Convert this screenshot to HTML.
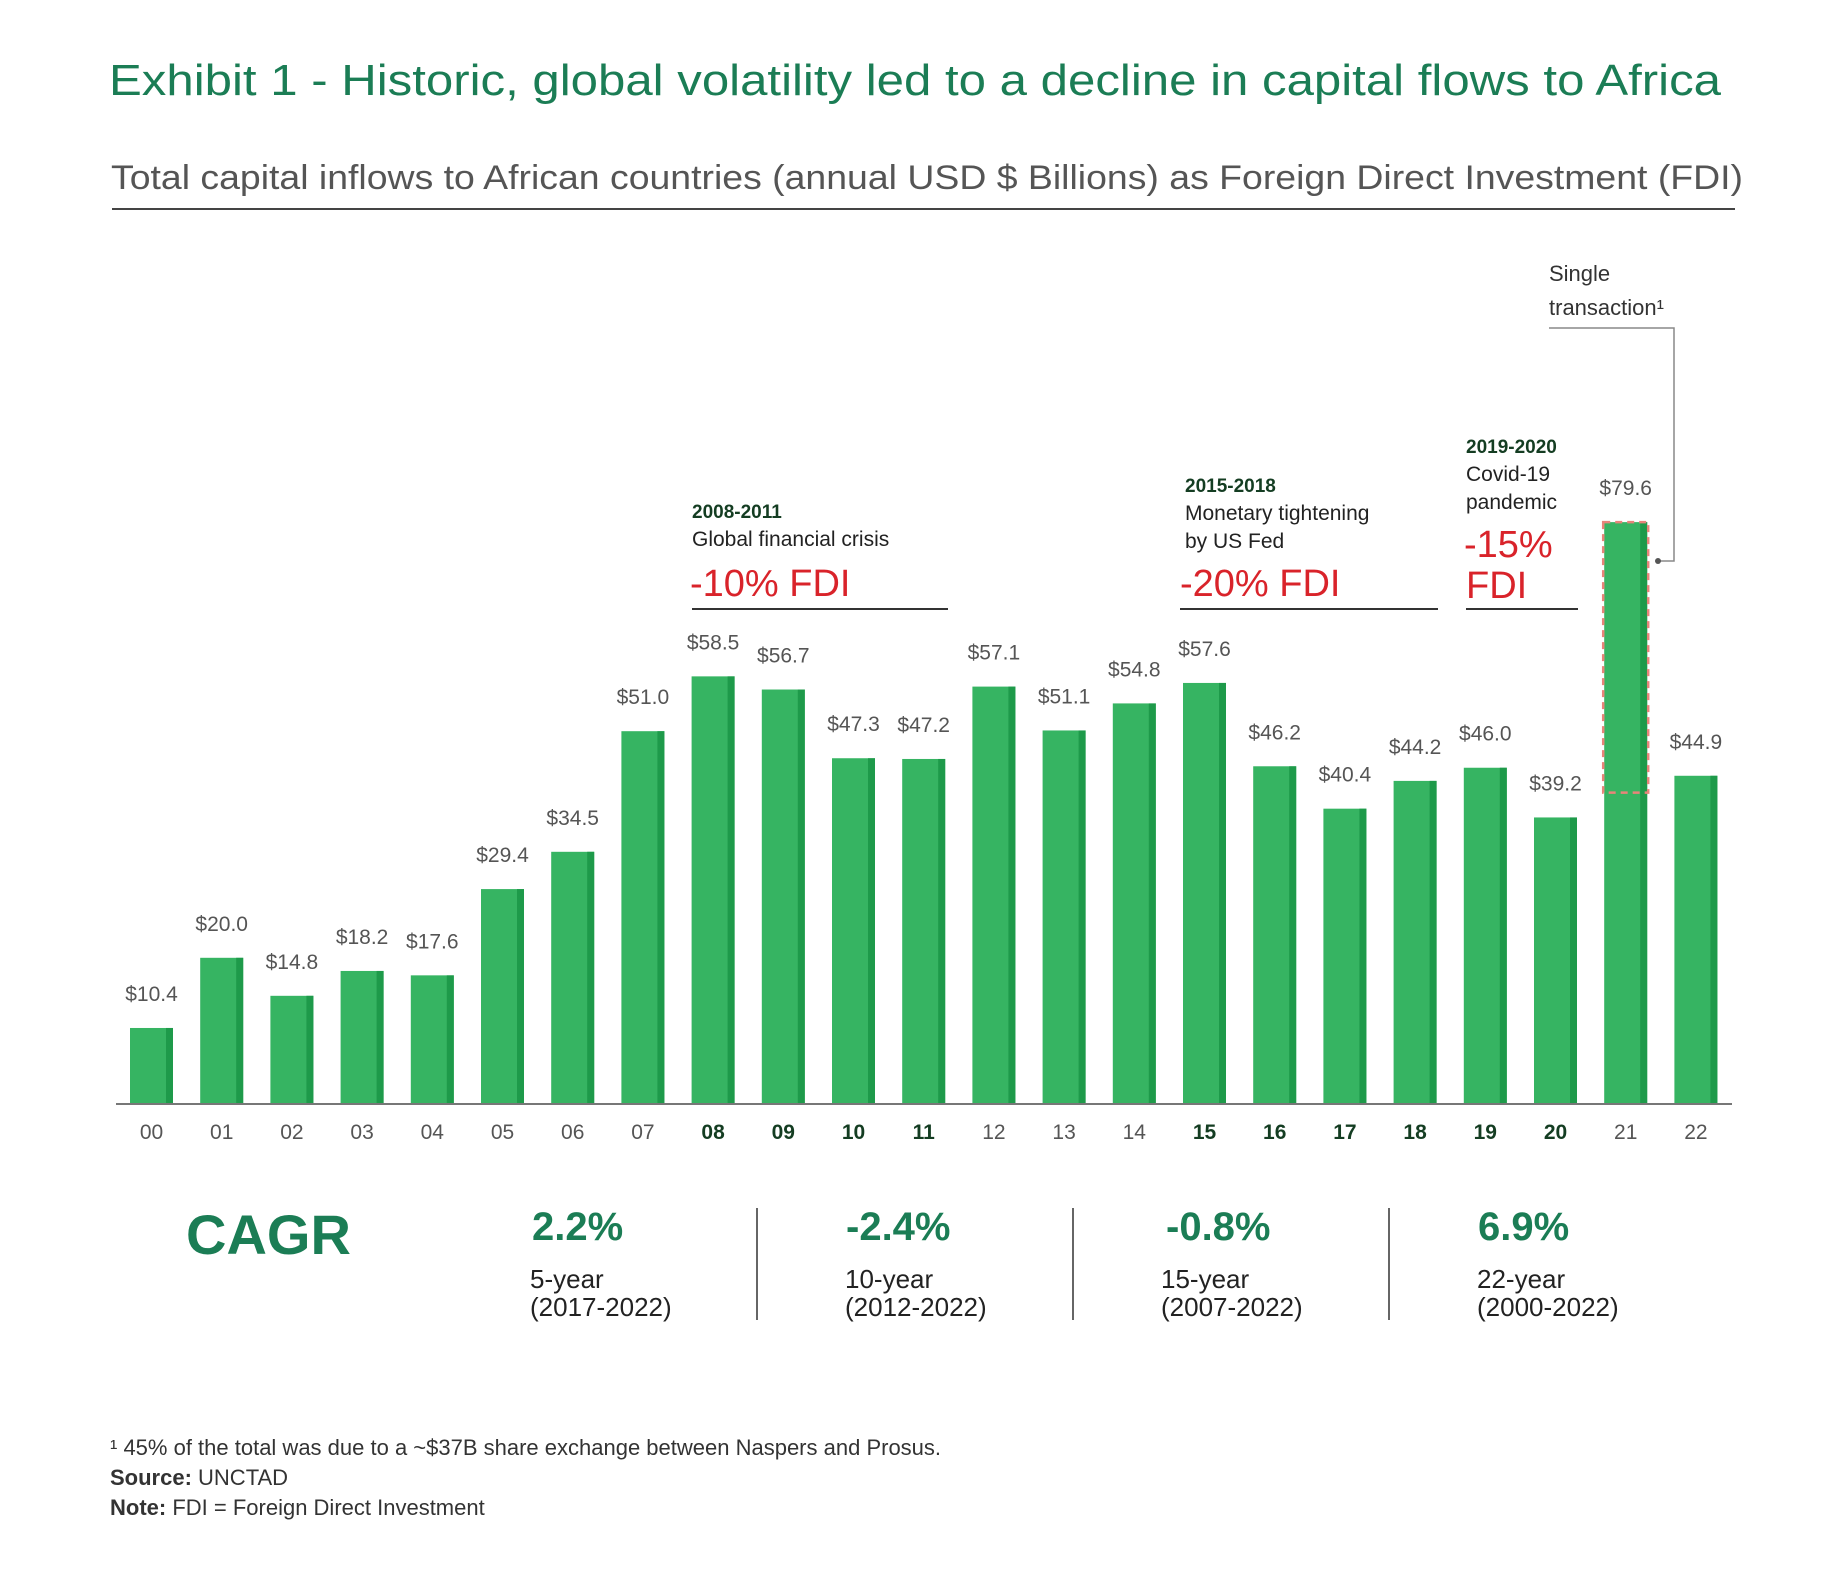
<!DOCTYPE html>
<html><head><meta charset="utf-8"><style>
html,body{margin:0;padding:0;background:#fff;}
svg text{font-family:"Liberation Sans",sans-serif;}
</style></head><body>
<svg id="chart" width="1847" height="1579" viewBox="0 0 1847 1579" xmlns="http://www.w3.org/2000/svg">
<text x="109" y="95" font-size="44" fill="#1b7d55" textLength="1612" lengthAdjust="spacingAndGlyphs">Exhibit 1 - Historic, global volatility led to a decline in capital flows to Africa</text>
<text x="111" y="189" font-size="34" fill="#555" textLength="1632" lengthAdjust="spacingAndGlyphs">Total capital inflows to African countries (annual USD $ Billions) as Foreign Direct Investment (FDI)</text>
<line x1="112" y1="209" x2="1735" y2="209" stroke="#444" stroke-width="2"/>

<g id="bars"></g>
<line x1="116" y1="1104" x2="1732" y2="1104" stroke="#777" stroke-width="2"/>
<g id="ticks"></g>

<g>
<text x="692" y="518" font-size="19" font-weight="bold" fill="#143d22">2008-2011</text>
<text x="692" y="546" font-size="21" fill="#222">Global financial crisis</text>
<text x="690" y="596" font-size="38" fill="#d9232a">-10% FDI</text>
<line x1="692" y1="609" x2="948" y2="609" stroke="#333" stroke-width="2"/>
</g>
<g>
<text x="1185" y="492" font-size="19" font-weight="bold" fill="#143d22">2015-2018</text>
<text x="1185" y="520" font-size="21" fill="#222">Monetary tightening</text>
<text x="1185" y="548" font-size="21" fill="#222">by US Fed</text>
<text x="1180" y="596" font-size="38" fill="#d9232a">-20% FDI</text>
<line x1="1180" y1="609" x2="1438" y2="609" stroke="#333" stroke-width="2"/>
</g>
<g>
<text x="1466" y="453" font-size="19" font-weight="bold" fill="#143d22">2019-2020</text>
<text x="1466" y="481" font-size="21" fill="#222">Covid-19</text>
<text x="1466" y="509" font-size="21" fill="#222">pandemic</text>
<text x="1464" y="557" font-size="38" fill="#d9232a">-15%</text>
<text x="1466" y="598" font-size="38" fill="#d9232a">FDI</text>
<line x1="1466" y1="609" x2="1578" y2="609" stroke="#333" stroke-width="2"/>
</g>
<g>
<text x="1549" y="281" font-size="22" fill="#333">Single</text>
<text x="1549" y="315" font-size="22" fill="#333">transaction¹</text>
<polyline points="1549,328 1674,328 1674,561 1658,561" fill="none" stroke="#888" stroke-width="1.5"/>
<circle cx="1658" cy="561" r="3" fill="#555"/>
</g>
<rect id="dotbox" fill="none" stroke="#e8847a" stroke-width="2.5" stroke-dasharray="7,5"/>

<g>
<text x="186" y="1254" font-size="56" font-weight="bold" fill="#1b7d55">CAGR</text>
<g font-size="40" font-weight="bold" fill="#1b7d55">
<text x="532" y="1240">2.2%</text><text x="846" y="1240">-2.4%</text><text x="1166" y="1240">-0.8%</text><text x="1478" y="1240">6.9%</text>
</g>
<g font-size="26" fill="#222">
<text x="530" y="1288">5-year</text><text x="530" y="1316">(2017-2022)</text>
<text x="845" y="1288">10-year</text><text x="845" y="1316">(2012-2022)</text>
<text x="1161" y="1288">15-year</text><text x="1161" y="1316">(2007-2022)</text>
<text x="1477" y="1288">22-year</text><text x="1477" y="1316">(2000-2022)</text>
</g>
<g stroke="#666" stroke-width="2">
<line x1="757" y1="1208" x2="757" y2="1320"/><line x1="1073" y1="1208" x2="1073" y2="1320"/><line x1="1389" y1="1208" x2="1389" y2="1320"/>
</g>
</g>
<g font-size="22" fill="#333">
<text x="110" y="1455">¹ 45% of the total was due to a ~$37B share exchange between Naspers and Prosus.</text>
<text x="110" y="1485"><tspan font-weight="bold">Source:</tspan> UNCTAD</text>
<text x="110" y="1515"><tspan font-weight="bold">Note:</tspan> FDI = Foreign Direct Investment</text>
</g>
</svg>
<script>
const years = ["00","01","02","03","04","05","06","07","08","09","10","11","12","13","14","15","16","17","18","19","20","21","22"];
const values = [10.4,20.0,14.8,18.2,17.6,29.4,34.5,51.0,58.5,56.7,47.3,47.2,57.1,51.1,54.8,57.6,46.2,40.4,44.2,46.0,39.2,79.6,44.9];
const boldYears = ["08","09","10","11","15","16","17","18","19","20"];
const singleTxBase = 42.6;
const NS="http://www.w3.org/2000/svg";
const base=1104, scale=7.31, x0=130, step=70.2, bw=43;
const xPos=i=>x0+i*step;
const yPos=v=>base-v*scale;
const gb=document.getElementById('bars'), gt=document.getElementById('ticks');
function mk(t,a,p){const e=document.createElementNS(NS,t);for(const k in a)e.setAttribute(k,a[k]);p.appendChild(e);return e;}
values.forEach((v,i)=>{
  const x=xPos(i), y=yPos(v);
  const r=mk('rect',{x:x,y:y,width:bw,height:base-y,fill:'#36b462'},gb);
  
  
  const s=mk('rect',{x:x+bw-7,y:y,width:7,height:base-y,fill:'#1e9a4a'},gb);
  
  
  const l=mk('text',{x:x+bw/2,y:y-27,'text-anchor':'middle','font-size':'21',fill:'#555'},gb);
  l.textContent='$'+v.toFixed(1);
  
  
  const b=boldYears.includes(years[i]);
  const t=mk('text',{x:x+bw/2,y:1139,'text-anchor':'middle','font-size':'21','font-weight':b?'bold':'normal',fill:b?'#143d22':'#555'},gt);
  t.textContent=years[i];
  
  
});
const i21=years.indexOf("21");
const db=document.getElementById('dotbox');
db.setAttribute('x',xPos(i21)-1);db.setAttribute('width',bw+2);
db.setAttribute('y',yPos(values[i21]));db.setAttribute('height',(values[i21]-singleTxBase)*scale);
</script>
</body></html>
